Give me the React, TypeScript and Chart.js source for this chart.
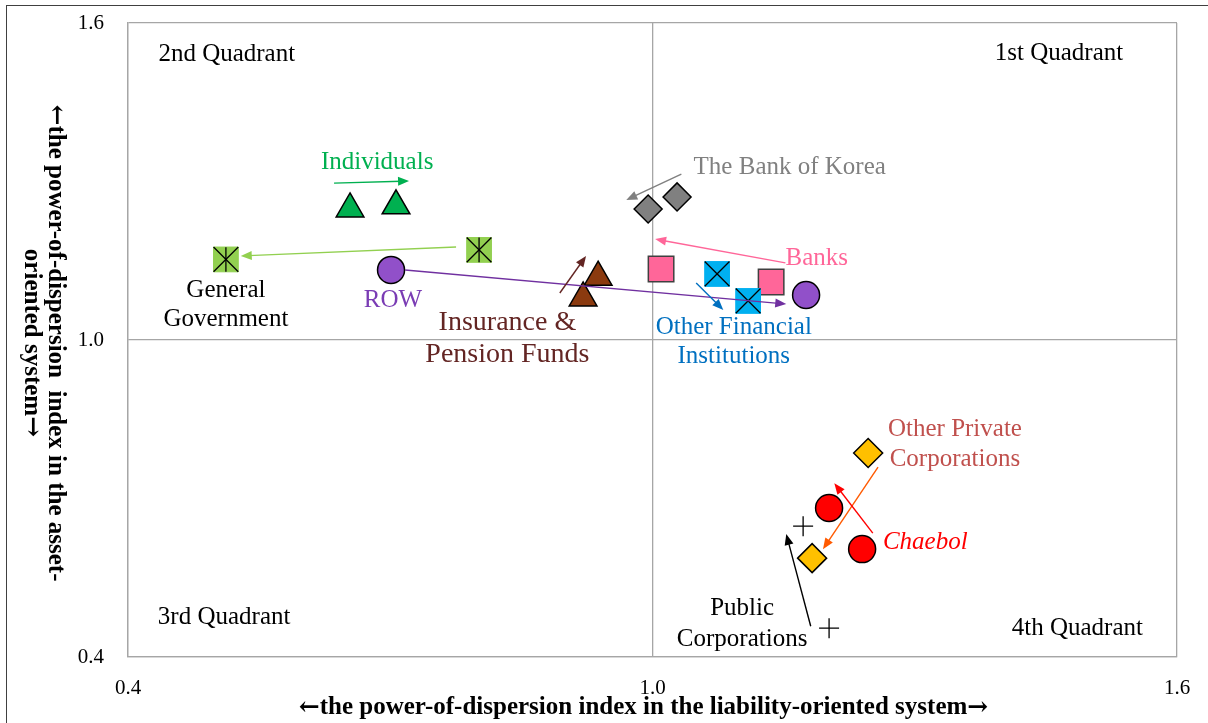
import React, { useEffect, useRef } from "react";
import { Chart, registerables } from "chart.js";

Chart.register(...registerables);

const FONT = "'Liberation Serif', 'Times New Roman', Times, serif";
const ARROW_FONT = "'DejaVu Serif', 'Liberation Serif', serif";

// axis
const axisMin = 0.4;
const axisMax = 1.6;
const axisStep = 0.6;
const xTitle = "←the power-of-dispersion index in the liability-oriented system→";
const yTitle = ["←the power-of-dispersion  index in the asset-", "oriented system→"];

// series values [x, y]
const individuals = [[0.654, 1.248], [0.7066, 1.254]];
const generalGovernment = [[0.512, 1.1525], [0.8016, 1.1705]];
const row = [[0.7009, 1.1326], [1.1757, 1.0852]];
const insurancePension = [[0.9378, 1.119], [0.9206, 1.0795]];
const bankOfKorea = [[0.995, 1.248], [1.0281, 1.2708]];
const banks = [[1.0098, 1.1345], [1.1357, 1.1098]];
const otherFinancial = [[1.0739, 1.125], [1.1094, 1.0739]];
const otherPrivateCorp = [[1.2467, 0.786], [1.1826, 0.5871]];
const chaebol = [[1.202, 0.682], [1.2398, 0.6042]];
const publicCorp = [[1.1723, 0.6477], [1.202, 0.4545]];

// annotation arrows (data coords) and labels
const arrows = [
  { from: [0.6357, 1.297], to: [0.7215, 1.301], color: "#00B050" },
  { from: [0.7753, 1.176], to: [0.529, 1.159], color: "#92D050" },
  { from: [0.717, 1.1326], to: [1.153, 1.068], color: "#7030A0" },
  { from: [0.894, 1.089], to: [0.924, 1.159], color: "#632523" },
  { from: [1.033, 1.314], to: [0.97, 1.265], color: "#808080" },
  { from: [1.152, 1.146], to: [1.003, 1.191], color: "#FF6699" },
  { from: [1.05, 1.108], to: [1.081, 1.057], color: "#0070C0" },
  { from: [1.258, 0.7595], to: [1.195, 0.604], color: "#FF5A00" },
  { from: [1.252, 0.6345], to: [1.208, 0.729], color: "#FF0000" },
  { from: [1.181, 0.4583], to: [1.153, 0.633], color: "#000000" },
];

const labels = [
  { lines: ["2nd Quadrant"], at: [0.513, 1.54], color: "#000000", size: 25, lh: 29, italic: false },
  { lines: ["1st Quadrant"], at: [1.465, 1.542], color: "#000000", size: 25, lh: 29, italic: false },
  { lines: ["3rd Quadrant"], at: [0.51, 0.475], color: "#000000", size: 25, lh: 29, italic: false },
  { lines: ["4th Quadrant"], at: [1.486, 0.455], color: "#000000", size: 25, lh: 29, italic: false },
  { lines: ["Individuals"], at: [0.685, 1.337], color: "#00B050", size: 25, lh: 29, italic: false },
  { lines: ["General", "Government"], at: [0.512, 1.093], color: "#000000", size: 25, lh: 29, italic: false },
  { lines: ["ROW"], at: [0.703, 1.074], color: "#7A3CB4", size: 25, lh: 29, italic: false },
  { lines: ["Insurance &", "Pension Funds"], at: [0.834, 1.032], color: "#632523", size: 28, lh: 32, italic: false },
  { lines: ["The Bank of Korea"], at: [1.157, 1.326], color: "#808080", size: 25, lh: 29, italic: false },
  { lines: ["Banks"], at: [1.188, 1.155], color: "#FF6699", size: 25, lh: 29, italic: false },
  { lines: ["Other Financial", "Institutions"], at: [1.093, 1.023], color: "#0070C0", size: 25, lh: 29, italic: false },
  { lines: ["Other Private", "Corporations"], at: [1.346, 0.83], color: "#C0504D", size: 25, lh: 30, italic: false },
  { lines: ["Chaebol"], at: [1.312, 0.617], color: "#FF0000", size: 25, lh: 29, italic: true },
  { lines: ["Public", "Corporations"], at: [1.1025, 0.491], color: "#000000", size: 25, lh: 31, italic: false },
];

const pts = (a: number[][]) => a.map(([x, y]) => ({ x, y }));

function drawArrow(ctx: CanvasRenderingContext2D, x1: number, y1: number, x2: number, y2: number, color: string) {
  const ang = Math.atan2(y2 - y1, x2 - x1);
  const c = Math.cos(ang);
  const s = Math.sin(ang);
  const hl = 11;
  const hw = 4.5;
  ctx.save();
  ctx.strokeStyle = color;
  ctx.fillStyle = color;
  ctx.lineWidth = 1.4;
  ctx.beginPath();
  ctx.moveTo(x1, y1);
  ctx.lineTo(x2 - c * hl * 0.7, y2 - s * hl * 0.7);
  ctx.stroke();
  ctx.beginPath();
  ctx.moveTo(x2, y2);
  ctx.lineTo(x2 - hl * c + hw * s, y2 - hl * s - hw * c);
  ctx.lineTo(x2 - hl * c - hw * s, y2 - hl * s + hw * c);
  ctx.closePath();
  ctx.fill();
  ctx.restore();
}

// draws a title centred at (0,0) in the current transform, arrows in a font that has them
function drawTitleText(ctx: CanvasRenderingContext2D, text: string, size: number) {
  const segs: { t: string; f: string }[] = [];
  let cur = "";
  for (const ch of Array.from(text)) {
    if (ch === "←" || ch === "→") {
      if (cur) segs.push({ t: cur, f: `bold ${size}px ${FONT}` });
      cur = "";
      segs.push({ t: ch, f: `bold ${size}px ${ARROW_FONT}` });
    } else cur += ch;
  }
  if (cur) segs.push({ t: cur, f: `bold ${size}px ${FONT}` });
  let total = 0;
  const widths = segs.map((s) => {
    ctx.font = s.f;
    const w = ctx.measureText(s.t).width;
    total += w;
    return w;
  });
  let x = -total / 2;
  ctx.textAlign = "left";
  ctx.textBaseline = "middle";
  segs.forEach((s, i) => {
    ctx.font = s.f;
    ctx.fillText(s.t, x, 0);
    x += widths[i];
  });
}

const annotationPlugin = {
  id: "annotations",
  afterDatasetsDraw(chart: any) {
    const ctx: CanvasRenderingContext2D = chart.ctx;
    const xs = chart.scales.x;
    const ys = chart.scales.y;
    arrows.forEach((a) => {
      drawArrow(
        ctx,
        xs.getPixelForValue(a.from[0]),
        ys.getPixelForValue(a.from[1]),
        xs.getPixelForValue(a.to[0]),
        ys.getPixelForValue(a.to[1]),
        a.color
      );
    });
    ctx.save();
    ctx.textAlign = "center";
    ctx.textBaseline = "middle";
    labels.forEach((l) => {
      ctx.font = `${l.italic ? "italic " : ""}${l.size}px ${FONT}`;
      ctx.fillStyle = l.color;
      const px = xs.getPixelForValue(l.at[0]);
      const py = ys.getPixelForValue(l.at[1]);
      l.lines.forEach((t, i) => ctx.fillText(t, px, py + i * l.lh));
    });
    ctx.restore();
  },
  afterDraw(chart: any) {
    const ctx: CanvasRenderingContext2D = chart.ctx;
    const area = chart.chartArea;
    ctx.save();
    ctx.fillStyle = "#000000";
    ctx.save();
    ctx.translate((area.left + area.right) / 2 - 9, area.bottom + 51);
    drawTitleText(ctx, xTitle, 25);
    ctx.restore();
    const cy = (area.top + area.bottom) / 2 + 3;
    const offsets = [55, 31];
    yTitle.forEach((t, i) => {
      ctx.save();
      ctx.translate(offsets[i], cy);
      ctx.rotate(Math.PI / 2);
      drawTitleText(ctx, t, 25);
      ctx.restore();
    });
    ctx.restore();
  },
};

export default function App() {
  const ref = useRef<HTMLCanvasElement | null>(null);
  useEffect(() => {
    if (!ref.current) return;
    const black = "#000000";
    // Lower dataset index is drawn on top in Chart.js, so overlays come first.
    const chart = new Chart(ref.current, {
      type: "scatter",
      data: {
        datasets: [
          { label: "Public Corporations", data: pts(publicCorp), pointStyle: "cross", pointRadius: 10, borderColor: black, borderWidth: 1.3 },
          { label: "Chaebol", data: pts(chaebol), pointStyle: "circle", pointRadius: 13.5, backgroundColor: "#FF0000", borderColor: black, borderWidth: 1.5 },
          { label: "Other Private Corporations", data: pts(otherPrivateCorp), pointStyle: "rectRot", pointRadius: 14.5, backgroundColor: "#FFC000", borderColor: black, borderWidth: 1.5 },
          { label: "Other Financial Institutions X", data: pts(otherFinancial), pointStyle: "crossRot", pointRadius: 17.5, borderColor: black, borderWidth: 1.3 },
          { label: "Other Financial Institutions", data: pts(otherFinancial), pointStyle: "rect", pointRadius: 17.5, backgroundColor: "#00B0F0", borderColor: "#00B0F0", borderWidth: 1 },
          { label: "Banks", data: pts(banks), pointStyle: "rect", pointRadius: 18, backgroundColor: "#FF6699", borderColor: "#404040", borderWidth: 1.5 },
          { label: "The Bank of Korea", data: pts(bankOfKorea), pointStyle: "rectRot", pointRadius: 14, backgroundColor: "#808080", borderColor: black, borderWidth: 1.5 },
          { label: "Insurance & Pension Funds", data: pts(insurancePension), pointStyle: "triangle", pointRadius: 16, backgroundColor: "#8B3A0F", borderColor: black, borderWidth: 1.5 },
          { label: "ROW", data: pts(row), pointStyle: "circle", pointRadius: 13.5, backgroundColor: "#9150C9", borderColor: black, borderWidth: 1.5 },
          { label: "General Government |", data: pts(generalGovernment), pointStyle: "line", pointRotation: 90, pointRadius: 12.3, borderColor: black, borderWidth: 1.3 },
          { label: "General Government X", data: pts(generalGovernment), pointStyle: "crossRot", pointRadius: 17.5, borderColor: black, borderWidth: 1.3 },
          { label: "General Government", data: pts(generalGovernment), pointStyle: "rect", pointRadius: 17.5, backgroundColor: "#92D050", borderColor: "#92D050", borderWidth: 1 },
          { label: "Individuals", data: pts(individuals), pointStyle: "triangle", pointRadius: 16, backgroundColor: "#00B050", borderColor: black, borderWidth: 1.5 },
        ] as any,
      },
      options: {
        animation: false,
        responsive: false,
        devicePixelRatio: 1,
        layout: { padding: { top: 23, right: 31, left: 0, bottom: 0 } },
        plugins: { legend: { display: false }, tooltip: { enabled: false } },
        scales: {
          x: {
            type: "linear",
            min: axisMin,
            max: axisMax,
            afterFit: (s: any) => { s.height = 66; s.paddingLeft = 0; s.paddingRight = 0; s.paddingTop = 0; s.paddingBottom = 0; },
            afterBuildTicks: (s: any) => { s.ticks = [axisMin, 1.0, axisMax].map((v) => ({ value: v })); },
            ticks: {
              stepSize: axisStep,
              padding: 19,
              color: black,
              font: { family: FONT, size: 21 },
              callback: (v: any) => Number(v).toFixed(1),
              maxRotation: 0,
            },
            grid: { color: "#A6A6A6", lineWidth: 1.3, drawTicks: false },
            border: { color: "#A6A6A6", width: 1.3 },
          },
          y: {
            type: "linear",
            min: axisMin,
            max: axisMax,
            afterFit: (s: any) => { s.width = 128; s.paddingTop = 0; s.paddingBottom = 0; s.paddingLeft = 0; s.paddingRight = 0; },
            afterBuildTicks: (s: any) => { s.ticks = [axisMin, 1.0, axisMax].map((v) => ({ value: v })); },
            ticks: {
              stepSize: axisStep,
              padding: 24,
              color: black,
              font: { family: FONT, size: 21 },
              callback: (v: any) => Number(v).toFixed(1),
            },
            grid: { color: "#A6A6A6", lineWidth: 1.3, drawTicks: false },
            border: { color: "#A6A6A6", width: 1.3 },
          },
        },
      } as any,
      plugins: [annotationPlugin],
    });
    return () => chart.destroy();
  }, []);

  return (
    <div style={{ position: "fixed", left: 0, top: 0, width: 1208, height: 723, overflow: "hidden", background: "#ffffff" }}>
      <div style={{ position: "absolute", left: 6, top: 5, width: 1400, height: 900, border: "1.5px solid #404040" }} />
      <canvas ref={ref} width={1208} height={723} style={{ position: "absolute", left: 0, top: 0, width: 1208, height: 723 }} />
    </div>
  );
}
